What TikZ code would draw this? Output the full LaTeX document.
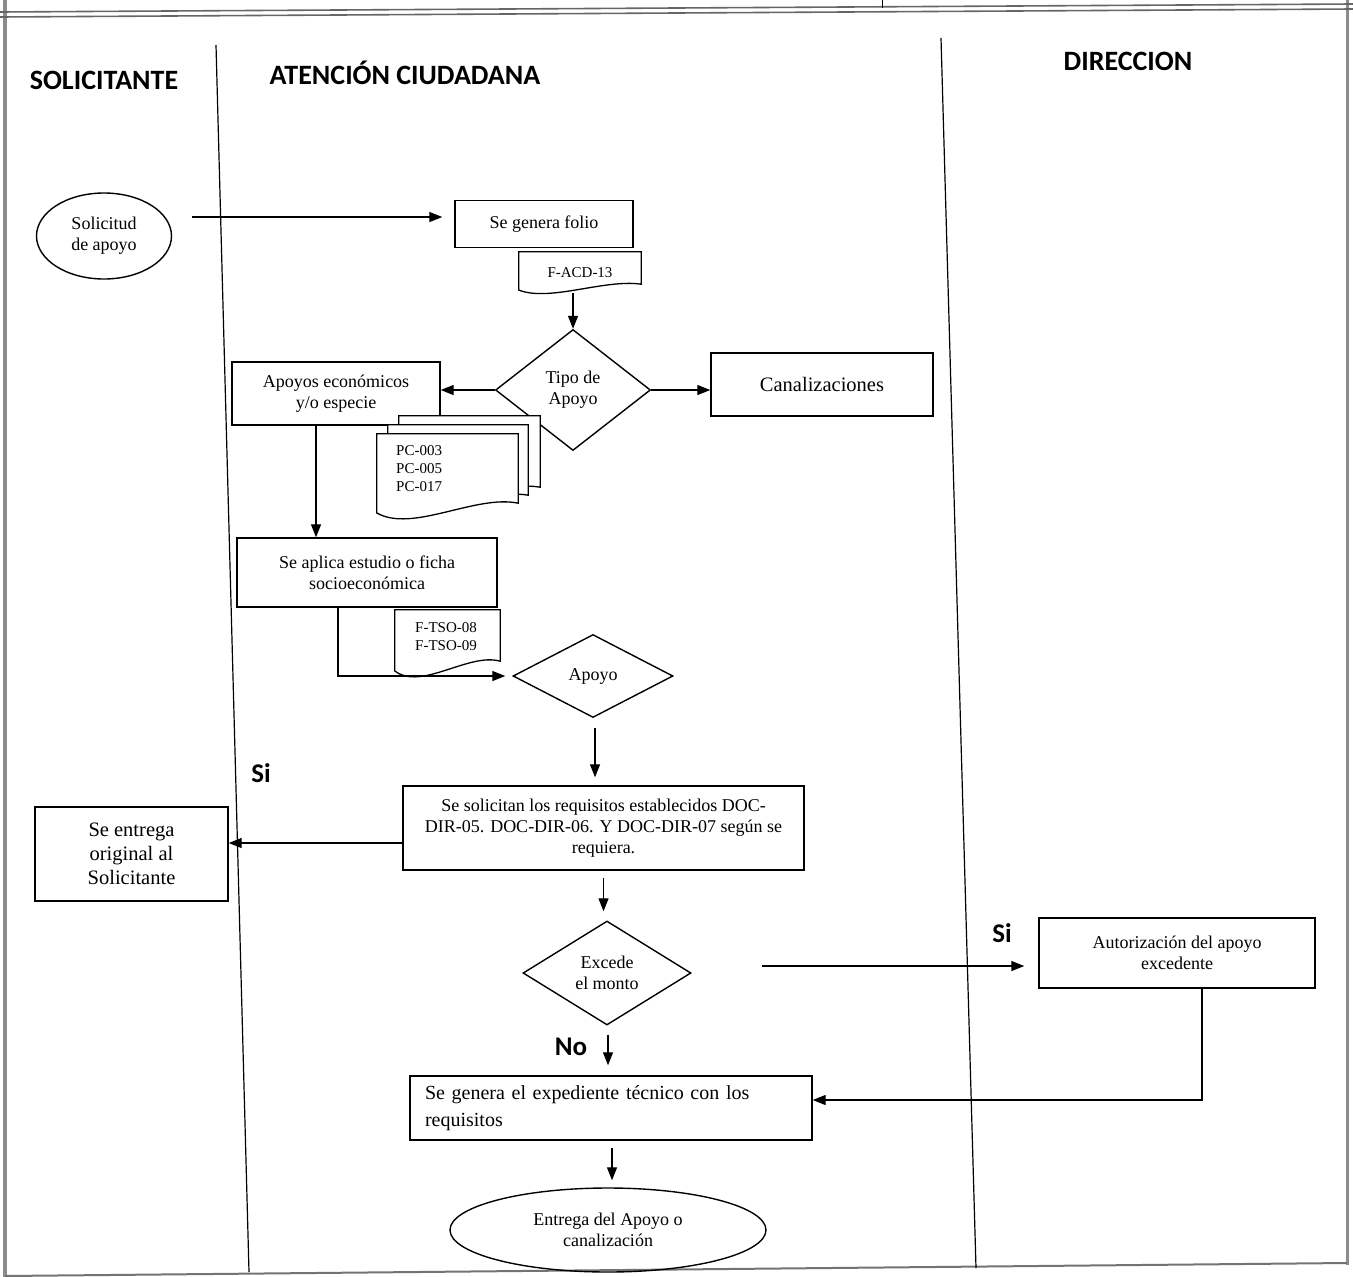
\documentclass[tikz,border=0pt]{standalone}
\usepackage{fontspec}
\setmainfont{Liberation Serif}
\newfontfamily\headfont{Carlito}
\usetikzlibrary{arrows.meta,shapes.geometric,calc}
\newcommand\fsz[2]{\fontsize{#1pt}{#2pt}\selectfont}
% document outline with wavy bottom: #1 node, #2 amplitude, #3 options
\newcommand\mydocshape[3]{%
  \draw[#3] (#1.north west) -- (#1.north east) -- ([yshift=#2pt]#1.south east)
    .. controls ([yshift={1.6*#2pt}]$(#1.south)!0.4!(#1.south east)$)
           and ([yshift=-#2pt]$(#1.south)!0.5!(#1.south west)$)
    .. ([yshift={0.35*#2pt}]#1.south west) -- cycle;}
\begin{document}
\begin{tikzpicture}[x=1pt,y=-1pt,
  ln/.style={line width=1.2pt},
  arr/.style={line width=1.3pt,-{Triangle[length=13pt,width=10pt]}},
  box/.style={draw,line width=1.4pt,rectangle,inner sep=0pt,align=center,font=\fsz{18}{21}},
  term/.style={draw,line width=1.4pt,ellipse,inner sep=0pt,align=center,font=\fsz{18}{21}},
  dec/.style={draw,line width=1.4pt,diamond,inner sep=0pt,align=center,font=\fsz{18}{21}},
  docn/.style={rectangle,inner sep=0pt,align=center,font=\fsz{15}{18}},
  doctxt/.style={inner sep=0pt,align=left,anchor=west,font=\fsz{15}{18}},
  head/.style={font=\headfont\bfseries\fsz{28}{30}},
  lab/.style={font=\headfont\bfseries\fsz{27}{30}},
  frm/.style={line width=1.6pt,black!60}
]
\useasboundingbox (0,0) rectangle (1353,1277);
% ---------- frame ----------
\draw[line width=4pt,black!45] (5,0) -- (5,1277);
\draw[line width=3pt,black!45] (1347,0) -- (1347,1265);
\draw[frm] (0,12) -- (1353,4);
\draw[frm] (0,17) -- (1353,9);
\draw[line width=1pt] (882,0) -- (882,8);
\draw[line width=2pt,black!55] (5,1276) -- (1347,1263);
% ---------- lanes ----------
\draw[ln] (216,45) -- (249,1272);
\draw[ln] (941,38) -- (976,1268);
\node[head] (h1) at (104,80) {SOLICITANTE};
\node[head] (h2) at (405,73) {ATENCIÓN CIUDADANA};
\node[head] (h3) at (1128,61) {DIRECCION};
% ---------- nodes ----------
\node[term,minimum width=135pt,minimum height=86pt] (sol) at (104,236) {Solicitud\\de apoyo};
\node[box,minimum width=178pt,minimum height=47pt] (folio) at (544,224) {Se genera folio};
\node[docn,minimum width=122pt,minimum height=41pt] (facd) at (580,272.5) {F-ACD-13};
\mydocshape{facd}{9}{line width=1.3pt}
\node[dec,minimum width=155pt,minimum height=121pt] (tipo) at (573,390) {Tipo de\\Apoyo};
\node[box,minimum width=222pt,minimum height=63pt,font=\fsz{20.5}{24}] (canal) at (822,384.5) {Canalizaciones};
\node[box,minimum width=208pt,minimum height=63pt] (apoyos) at (336,393.5) {Apoyos económicos\\y/o especie};
% stacked documents
\node[docn,minimum width=141pt,minimum height=83pt] (pcC) at (469.5,457.5) {};
\mydocshape{pcC}{12}{line width=1.3pt,fill=white}
\node[docn,minimum width=140pt,minimum height=82pt] (pcB) at (458,466) {};
\mydocshape{pcB}{12}{line width=1.3pt,fill=white}
\node[docn,minimum width=141pt,minimum height=84pt] (pcA) at (447.5,476) {};
\mydocshape{pcA}{15}{line width=1.3pt,fill=white}
\node[doctxt] (pctxt) at (396,469) {PC-003\\PC-005\\PC-017};
\node[box,minimum width=260pt,minimum height=69pt] (aplica) at (367,572.5) {Se aplica estudio o ficha\\socioeconómica};
\node[docn,minimum width=105pt,minimum height=66pt] (ftso) at (447.5,643) {};
\mydocshape{ftso}{15}{line width=1.3pt}
\node[doctxt] (ftsotxt) at (415,637) {F-TSO-08\\F-TSO-09};
\node[dec,minimum width=160pt,minimum height=83pt] (apoyo) at (593,676) {Apoyo};
\node[box,minimum width=401pt,minimum height=84pt] (solic) at (603.5,828)
  {Se solicitan los requisitos establecidos DOC-\\DIR-05. DOC-DIR-06. Y DOC-DIR-07 según se\\requiera.};
\node[box,minimum width=193pt,minimum height=94pt,font=\fsz{20.5}{24}] (entrega) at (131.5,854) {Se entrega\\original al\\Solicitante};
\node[dec,minimum width=168pt,minimum height=104pt] (excede) at (607,973) {Excede\\el monto};
\node[box,minimum width=276pt,minimum height=70pt] (autoriz) at (1177,953) {Autorización del apoyo\\excedente};
\node[box,minimum width=402pt,minimum height=64pt,text width=372pt,inner xsep=15pt,align=left,font=\fsz{20}{27}] (exped) at (611,1108)
  {Se genera el expediente técnico con los\\requisitos};
\node[term,minimum width=316pt,minimum height=84pt] (fin) at (608,1230) {Entrega del Apoyo o\\canalización};
% labels
\node[lab] (si1) at (261,773) {Si};
\node[lab] (si2) at (1002,933) {Si};
\node[lab] (no1) at (571,1047) {No};
% ---------- connectors ----------
\coordinate (s1) at (192,217);
\draw[arr,shorten >=12pt] (s1) -- (s1 -| folio.west);
\draw[arr] (tipo.north |- facd.south) -- (tipo.north);
\draw[arr] (tipo.west) -- (tipo.west -| apoyos.east);
\draw[arr] (tipo.east) -- (tipo.east -| canal.west);
\draw[arr] ([xshift=-20pt]apoyos.south) -- ([xshift=-20pt]apoyos.south |- aplica.north);
\draw[arr,shorten >=7pt] ([xshift=-29pt]aplica.south) |- (apoyo.west);
\draw[arr,shorten <=10pt,shorten >=8pt] ([xshift=2pt]apoyo.south) -- ([xshift=2pt]apoyo.south |- solic.north);
\draw[arr] ([yshift=-15pt]solic.west) -- ([yshift=-15pt]solic.west -| entrega.east);
\draw[arr,shorten <=7pt,shorten >=9pt] (solic.south) -- (solic.south |- excede.north);
\coordinate (s2) at (762,966);
\draw[arr,shorten >=14pt] (s2) -- (s2 -| autoriz.west);
\draw[arr,shorten <=9pt,shorten >=10pt] ([xshift=1pt]excede.south) -- ([xshift=1pt]excede.south |- exped.north);
\draw[arr] ([xshift=25pt]autoriz.south) |- ([yshift=8pt]exped.east);
\draw[arr,shorten <=7pt,shorten >=7pt] ([xshift=1pt]exped.south) -- ([xshift=1pt]exped.south |- fin.north);
\end{tikzpicture}
\end{document}
